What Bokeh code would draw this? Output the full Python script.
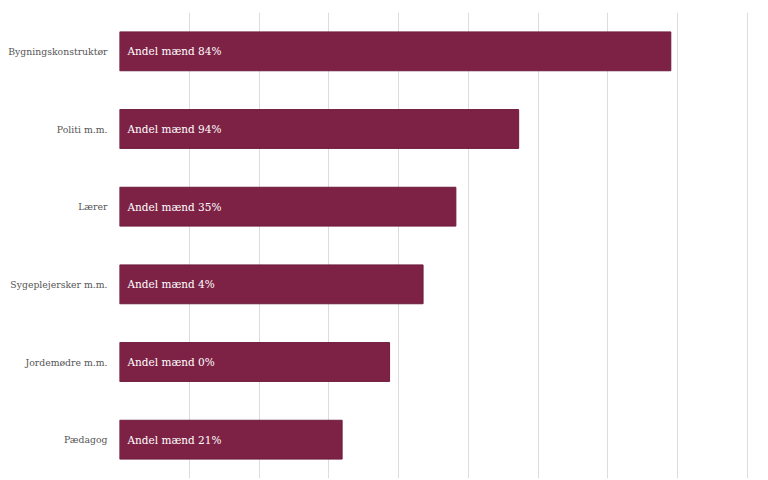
from bokeh.plotting import figure
from bokeh.models import ColumnDataSource, FixedTicker, Range1d, FactorRange
from bokeh.core.properties import value
from bokeh.embed import file_html
from bokeh.resources import INLINE

categories = ["Bygningskonstruktør", "Politi m.m.", "Lærer", "Sygeplejersker m.m.", "Jordemødre m.m.", "Pædagog"]
values = [7.90, 5.72, 4.82, 4.35, 3.87, 3.19]
labels = ["Andel mænd 84%", "Andel mænd 94%", "Andel mænd 35%", "Andel mænd 4%", "Andel mænd 0%", "Andel mænd 21%"]
x_ticks = [0, 1, 2, 3, 4, 5, 6, 7, 8, 9]

src = ColumnDataSource(dict(cat=categories, val=values, lab=labels, zero=[0] * len(categories)))

p = figure(width=768, height=480, output_backend="svg", toolbar_location=None,
           y_range=FactorRange(*reversed(categories), range_padding=0),
           x_range=Range1d(0, 9.3),
           min_border_left=119, min_border_right=0, min_border_top=12, min_border_bottom=2)

p.hbar(y="cat", left=0, right="val", height=0.5, source=src,
       fill_color="#7d2245", line_color="#6e1c3c", line_width=1)

p.text(x="zero", y="cat", text="lab", source=src, x_offset=8,
       text_color="white", text_font=value("DejaVu Serif"), text_font_size="10.5px",
       text_baseline="middle", text_align="left")

p.outline_line_color = None
p.background_fill_color = "white"
p.xaxis.visible = False
p.xaxis.ticker = FixedTicker(ticks=x_ticks)
p.xgrid.ticker = FixedTicker(ticks=x_ticks)
p.xgrid.grid_line_color = "#dcdcdc"
p.xgrid.grid_line_width = 1
p.ygrid.grid_line_color = None

ax = p.yaxis[0]
ax.axis_line_color = None
ax.major_tick_line_color = None
ax.minor_tick_line_color = None
ax.major_label_standoff = 6
ax.major_label_text_font = "DejaVu Serif"
ax.major_label_text_font_size = "9.3px"
ax.major_label_text_color = "#555555"

open("out.html", "w").write(file_html(p, INLINE))
